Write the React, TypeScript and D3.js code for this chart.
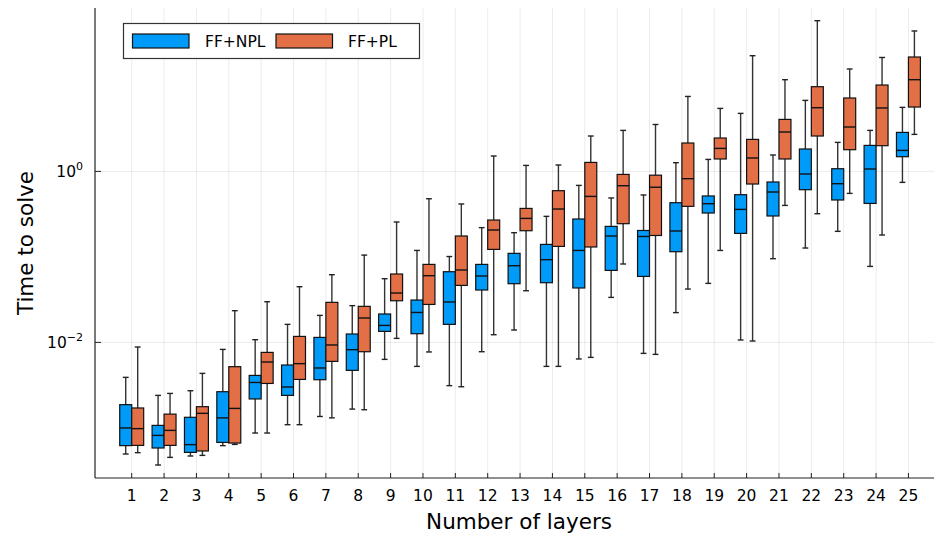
import React, {useEffect, useRef} from 'react'
import * as d3 from 'd3'

const layers = [1, 2, 3, 4, 5, 6, 7, 8, 9, 10, 11, 12, 13, 14, 15, 16, 17, 18, 19, 20, 21, 22, 23, 24, 25]
const seriesNames = ['FF+NPL', 'FF+PL']

// FF+NPL: whisker low, Q1, median, Q3, whisker high (seconds)
const nplLow = [0.000495, 0.000368, 0.000469, 0.00062, 0.000871, 0.00109, 0.00136, 0.00166, 0.00633, 0.00524, 0.00312, 0.00778, 0.01396, 0.00524, 0.0064, 0.0336, 0.00744, 0.0223, 0.049, 0.01067, 0.0953, 0.127, 0.199, 0.0774, 0.744]
const nplQ1 = [0.00062, 0.000582, 0.000517, 0.000676, 0.00218, 0.0024, 0.00366, 0.00471, 0.01345, 0.01264, 0.01625, 0.041, 0.0486, 0.0499, 0.0433, 0.0695, 0.0591, 0.115, 0.326, 0.1884, 0.301, 0.611, 0.463, 0.422, 1.486]
const nplMedian = [0.000998, 0.000817, 0.000637, 0.00131, 0.0034, 0.00301, 0.00502, 0.00822, 0.0158, 0.0224, 0.0297, 0.0598, 0.0789, 0.0928, 0.119, 0.1756, 0.1733, 0.201, 0.419, 0.3594, 0.574, 0.932, 0.718, 1.067, 1.761]
const nplQ3 = [0.00187, 0.00107, 0.00133, 0.00265, 0.00411, 0.00544, 0.01144, 0.01254, 0.0215, 0.0313, 0.0671, 0.0817, 0.11, 0.14, 0.2775, 0.2274, 0.2037, 0.4305, 0.516, 0.534, 0.752, 1.828, 1.075, 2.014, 2.858]
const nplHigh = [0.0039, 0.0024, 0.00272, 0.00828, 0.01076, 0.01625, 0.0207, 0.0269, 0.0556, 0.119, 0.101, 0.22, 0.192, 0.298, 0.686, 0.489, 0.53, 1.264, 1.381, 4.77, 1.555, 6.77, 2.184, 3.017, 5.61]

// FF+PL
const plLow = [0.000513, 0.000452, 0.000477, 0.000641, 0.000871, 0.00109, 0.00131, 0.00163, 0.01114, 0.00773, 0.00303, 0.0123, 0.0402, 0.00524, 0.00668, 0.0826, 0.00724, 0.0421, 0.119, 0.01038, 0.4, 0.32, 0.553, 0.1803, 2.71]
const plQ1 = [0.000624, 0.000624, 0.000537, 0.000665, 0.00331, 0.00369, 0.006, 0.00778, 0.0307, 0.0278, 0.0464, 0.1224, 0.2024, 0.1327, 0.1306, 0.2446, 0.178, 0.39, 1.397, 0.712, 1.397, 2.594, 1.794, 1.998, 5.66]
const plMedian = [0.00098, 0.000935, 0.00148, 0.00169, 0.0059, 0.00564, 0.00933, 0.0193, 0.0378, 0.0603, 0.0703, 0.2064, 0.282, 0.363, 0.51, 0.68, 0.653, 0.822, 1.858, 1.435, 2.89, 5.56, 3.305, 5.52, 11.82]
const plQ3 = [0.00171, 0.00145, 0.00177, 0.0052, 0.00764, 0.01175, 0.0294, 0.0264, 0.0631, 0.0817, 0.1756, 0.27, 0.369, 0.595, 1.274, 0.922, 0.903, 2.148, 2.458, 2.368, 4.057, 9.79, 7.22, 10.24, 21.78]
const plHigh = [0.00883, 0.00253, 0.00434, 0.0235, 0.0299, 0.0448, 0.0619, 0.105, 0.256, 0.479, 0.416, 1.514, 1.175, 1.188, 2.594, 3.017, 3.536, 7.53, 5.456, 22.55, 11.82, 57.9, 15.77, 21.5, 43.9]

const yTicks = [0.01, 1]
const yTickExp = ['\u22122', '0']

const colors = ['#009af9', '#e26f46']
const font = 'DejaVu Sans'

export default function App() {
  const ref = useRef<SVGSVGElement>(null)

  useEffect(() => {
    const svg = d3.select(ref.current)
    svg.selectAll('*').remove()

    const left = 95, right = 934, top = 8, bottom = 478
    const x = d3.scaleLinear().domain([-0.134, 25.79]).range([left, right])
    const y = d3.scaleLog().domain([2.594e-4, 81.5]).range([bottom, top])

    // grid
    svg.append('g').selectAll('line').data(layers).enter().append('line')
      .attr('x1', d => x(d)).attr('x2', d => x(d))
      .attr('y1', top).attr('y2', bottom)
      .attr('stroke', '#000').attr('stroke-opacity', 0.08).attr('stroke-width', 1)
    svg.append('g').selectAll('line').data(yTicks).enter().append('line')
      .attr('x1', left).attr('x2', right)
      .attr('y1', d => y(d)).attr('y2', d => y(d))
      .attr('stroke', '#000').attr('stroke-opacity', 0.08).attr('stroke-width', 1)

    const series = [
      {low: nplLow, q1: nplQ1, med: nplMedian, q3: nplQ3, high: nplHigh, off: -0.37},
      {low: plLow, q1: plQ1, med: plMedian, q3: plQ3, high: plHigh, off: 0},
    ]
    const bw = 0.37
    const cap = 0.09

    series.forEach((s, si) => {
      const rows = layers.map((l, i) => ({
        x0: l + s.off, xc: l + s.off + bw / 2,
        low: s.low[i], q1: s.q1[i], med: s.med[i], q3: s.q3[i], high: s.high[i],
      }))
      const g = svg.append('g')
      // whiskers
      g.selectAll('.wl').data(rows).enter().append('line')
        .attr('x1', d => x(d.xc)).attr('x2', d => x(d.xc))
        .attr('y1', d => y(d.low)).attr('y2', d => y(d.high))
        .attr('stroke', '#333').attr('stroke-width', 1.4)
      ;['low', 'high'].forEach(k => {
        g.selectAll('.cap-' + k).data(rows).enter().append('line')
          .attr('x1', d => x(d.xc - cap)).attr('x2', d => x(d.xc + cap))
          .attr('y1', d => y(d[k])).attr('y2', d => y(d[k]))
          .attr('stroke', '#222').attr('stroke-width', 1.4)
      })
      // boxes
      g.selectAll('rect').data(rows).enter().append('rect')
        .attr('x', d => x(d.x0)).attr('width', d => x(d.x0 + bw) - x(d.x0))
        .attr('y', d => y(d.q3)).attr('height', d => y(d.q1) - y(d.q3))
        .attr('fill', colors[si]).attr('stroke', '#111').attr('stroke-width', 1.2)
      g.selectAll('.med').data(rows).enter().append('line')
        .attr('x1', d => x(d.x0)).attr('x2', d => x(d.x0 + bw))
        .attr('y1', d => y(d.med)).attr('y2', d => y(d.med))
        .attr('stroke', '#111').attr('stroke-width', 1.4)
    })

    // axes
    svg.append('line').attr('x1', left).attr('x2', left).attr('y1', top).attr('y2', bottom)
      .attr('stroke', '#222').attr('stroke-width', 1.2)
    svg.append('line').attr('x1', left).attr('x2', right).attr('y1', bottom).attr('y2', bottom)
      .attr('stroke', '#222').attr('stroke-width', 1.2)

    svg.append('g').selectAll('line').data(layers).enter().append('line')
      .attr('x1', d => x(d)).attr('x2', d => x(d))
      .attr('y1', bottom).attr('y2', bottom - 5)
      .attr('stroke', '#222').attr('stroke-width', 1)
    svg.append('g').selectAll('text').data(layers).enter().append('text')
      .attr('x', d => x(d)).attr('y', 501)
      .attr('text-anchor', 'middle').attr('font-size', 15.5).attr('font-family', font)
      .text(d => d)

    svg.append('g').selectAll('line').data(yTicks).enter().append('line')
      .attr('x1', left).attr('x2', left + 6)
      .attr('y1', d => y(d)).attr('y2', d => y(d))
      .attr('stroke', '#222').attr('stroke-width', 1)
    const yl = svg.append('g').selectAll('text').data(yTicks).enter().append('text')
      .attr('x', 83).attr('y', d => y(d) + 6)
      .attr('text-anchor', 'end').attr('font-size', 15.5).attr('font-family', font)
    yl.append('tspan').text('10')
    yl.append('tspan').attr('dy', -7).attr('font-size', 11).text((d, i) => yTickExp[i])

    svg.append('text').attr('x', 519).attr('y', 529)
      .attr('text-anchor', 'middle').attr('font-size', 21.5).attr('font-family', font)
      .text('Number of layers')
    svg.append('text').attr('transform', 'translate(33, 243) rotate(-90)')
      .attr('text-anchor', 'middle').attr('font-size', 21.5).attr('font-family', font)
      .text('Time to solve')

    // legend
    const lg = svg.append('g')
    lg.append('rect').attr('x', 123.5).attr('y', 23.5).attr('width', 296).attr('height', 35)
      .attr('fill', '#fff').attr('stroke', '#333').attr('stroke-width', 1.2)
    const items = [{px: 132.5, tx: 205}, {px: 276, tx: 348}]
    items.forEach((it, i) => {
      lg.append('rect').attr('x', it.px).attr('y', 34).attr('width', 56.5).attr('height', 14)
        .attr('fill', colors[i]).attr('stroke', '#111').attr('stroke-width', 1.2)
      lg.append('text').attr('x', it.tx).attr('y', 46.5)
        .attr('font-size', 15.5).attr('font-family', font).text(seriesNames[i])
    })
  }, [])

  return (
    <svg ref={ref} width={934} height={538}
      style={{position: 'absolute', left: 0, top: 0, background: '#fff'}}>
    </svg>
  )
}
